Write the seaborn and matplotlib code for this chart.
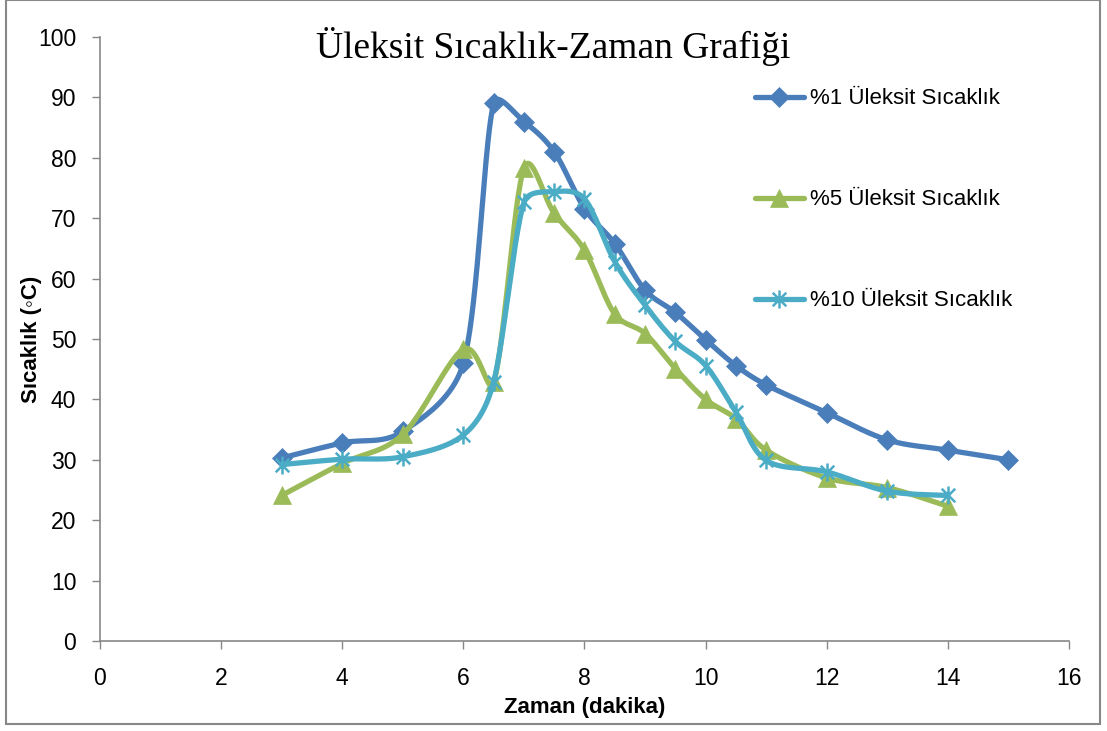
import numpy as np
import matplotlib
matplotlib.use("Agg")
import matplotlib.pyplot as plt
from matplotlib.path import Path
from matplotlib.lines import Line2D
from matplotlib.patches import Rectangle
import seaborn as sns

# Data
t_1 = [3, 4, 5, 6, 6.5, 7, 7.5, 8, 8.5, 9, 9.5, 10, 10.5, 11, 12, 13, 14, 15]
temp_1 = [30.3, 32.8, 34.7, 46.0, 89.0, 86.0, 81.0, 71.6, 65.8, 58.1, 54.4, 49.9,
          45.6, 42.4, 37.8, 33.3, 31.6, 30.0]

t_5 = [3, 4, 5, 6, 6.5, 7, 7.5, 8, 8.5, 9, 9.5, 10, 10.5, 11, 12, 13, 14]
temp_5 = [24.1, 29.4, 34.2, 48.3, 42.8, 78.3, 70.8, 64.7, 54.1, 50.9, 45.1, 40.0,
          36.8, 31.6, 27.0, 25.4, 22.3]

t_10 = [3, 4, 5, 6, 6.5, 7, 7.5, 8, 8.5, 9, 9.5, 10, 10.5, 11, 12, 13, 14]
temp_10 = [29.2, 30.1, 30.5, 34.1, 42.9, 72.6, 74.4, 73.2, 62.8, 55.6, 49.6, 45.6,
           37.9, 29.9, 28.0, 24.8, 24.1]

labels = ["%1 Üleksit Sıcaklık", "%5 Üleksit Sıcaklık", "%10 Üleksit Sıcaklık"]
colors = ["#4A7EBB", "#9BBB59", "#4BACC6"]


def smooth(x, y, n=40, k=0.4, yscale=0.1):
    # Excel-style smoothed line: cubic Bezier, tangents clamped to the segment length
    P = np.column_stack([np.asarray(x, float), np.asarray(y, float) * yscale])
    m = len(P)
    T = np.zeros_like(P)
    for i in range(m):
        T[i] = (P[min(i + 1, m - 1)] - P[max(i - 1, 0)]) / 6
    out = []
    for i in range(m - 1):
        p1, p2 = P[i], P[i + 1]
        seg = np.linalg.norm(p2 - p1)
        t1, t2 = T[i], T[i + 1]
        n1, n2 = np.linalg.norm(t1), np.linalg.norm(t2)
        c1 = p1 + t1 * (min(1, k * seg / n1) if n1 > 0 else 0)
        c2 = p2 - t2 * (min(1, k * seg / n2) if n2 > 0 else 0)
        s = np.linspace(0, 1, n)[:, None]
        pts = (1 - s) ** 3 * p1 + 3 * (1 - s) ** 2 * s * c1 + 3 * (1 - s) * s ** 2 * c2 + s ** 3 * p2
        out.append(pts if i == 0 else pts[1:])
    out = np.vstack(out)
    return out[:, 0], out[:, 1] / yscale


# Excel "star" marker: vertical bar plus an X
star = Path([(0, -1), (0, 1), (-0.75, -0.75), (0.75, 0.75), (-0.75, 0.75), (0.75, -0.75)],
            [Path.MOVETO, Path.LINETO, Path.MOVETO, Path.LINETO, Path.MOVETO, Path.LINETO])

sns.set_style("white")
plt.rcParams['font.family'] = ['Liberation Sans', 'DejaVu Sans']
plt.rcParams['text.color'] = 'black'
plt.rcParams['axes.labelcolor'] = 'black'
plt.rcParams['xtick.labelcolor'] = 'black'
plt.rcParams['ytick.labelcolor'] = 'black'

fig = plt.figure(figsize=(11.07, 7.31), dpi=100)
ax = fig.add_axes([0.0903, 0.1231, 0.8754, 0.8263])

series = [(t_1, temp_1, "D", 10, 0.5), (t_5, temp_5, "^", 13, 0.5), (t_10, temp_10, star, 13, 1.8)]
handles = []
for (xs, ys, mk, ms, mew), lab, col in zip(series, labels, colors):
    sx, sy = smooth(xs, ys)
    sns.lineplot(x=sx, y=sy, sort=False, estimator=None, color=col, linewidth=3.8,
                 solid_capstyle="round", ax=ax)
    ax.plot(xs, ys, linestyle="none", marker=mk, markersize=ms, color=col,
            markeredgecolor=col, markeredgewidth=mew)
    handles.append(Line2D([0], [0], color=col, linewidth=3.8, marker=mk, markersize=ms,
                          markeredgecolor=col, markeredgewidth=mew, solid_capstyle="round"))

ax.set_xlim(0, 16)
ax.set_ylim(0, 100)
ax.set_xticks(np.arange(0, 17, 2))
ax.set_yticks(np.arange(0, 101, 10))
ax.tick_params(axis="both", labelsize=16.5, length=6, width=1, color="#878787",
               direction="out", left=True, bottom=True)
ax.tick_params(axis="x", pad=13)
ax.tick_params(axis="y", pad=11)
for side in ["top", "right"]:
    ax.spines[side].set_visible(False)
for side in ["left", "bottom"]:
    ax.spines[side].set_color("#878787")
    ax.spines[side].set_linewidth(1.2)

ax.set_xlabel("Zaman (dakika)", fontsize=16, fontweight="bold")
ax.set_ylabel("Sıcaklık (◦C)", fontsize=16, fontweight="bold")
ax.xaxis.set_label_coords(0.5, -0.093)
ax.yaxis.set_label_coords(-0.060, 0.5)

fig.text(0.50, 0.937, "Üleksit Sıcaklık-Zaman Grafiği", fontsize=27,
         family="Liberation Serif", ha="center", va="center")

ax.legend(handles, labels, loc="upper left", bbox_to_anchor=(0.655, 0.948), frameon=False,
          fontsize=16, handlelength=2.2, handletextpad=0.3, labelspacing=3.6)

fig.patches.append(Rectangle((6 / 1107, 1 - 724 / 731), 1094 / 1107, 724 / 731,
                             transform=fig.transFigure, fill=False,
                             edgecolor="#888888", linewidth=1.5))

fig.savefig("out.png", dpi=100)
